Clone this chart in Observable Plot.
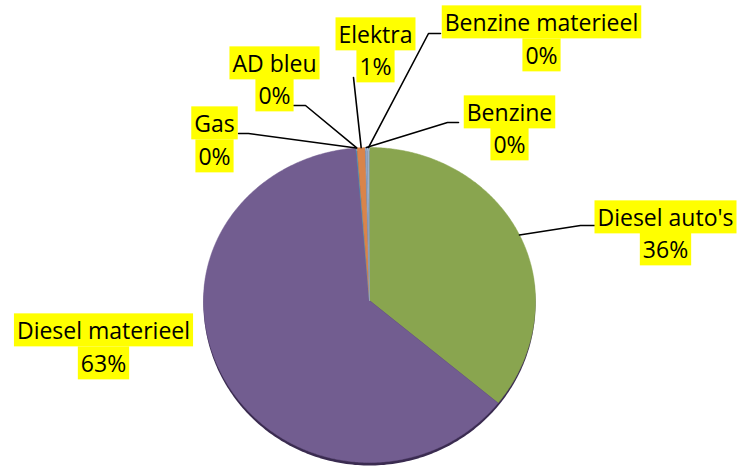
<!DOCTYPE html>
<html><head><meta charset="utf-8">
<script src="https://cdn.jsdelivr.net/npm/d3@7"></script>
<script src="https://cdn.jsdelivr.net/npm/@observablehq/plot@0.6"></script>
<style>body{margin:0;background:#fff}</style>
</head><body><div id="chart"></div>
<script>
// ---- data (clockwise from 12 o'clock) ----
const categories = ["Diesel auto's", "Diesel materieel", "Gas", "AD bleu", "Elektra", "Benzine", "Benzine materieel"];
const values = [35.9, 62.8, 0.05, 0.05, 0.8, 0.2, 0.2];
const percentLabels = ["36%", "63%", "0%", "0%", "1%", "0%", "0%"];

// ---- style / layout ----
const sliceColors = {
  "Benzine materieel": "#9cb1cb",
  "Benzine": "#8ea6c6",
  "Diesel auto's": "#89a54f",
  "Diesel materieel": "#725d90",
  "Gas": "#4f81bd",
  "AD bleu": "#4bacc6",
  "Elektra": "#d9844a"
};
const pie = {cx: 369, cy: 300, rx: 166, ryTop: 153, ryBottom: 162};
const labelLayout = {
  "Benzine materieel": {x: 541, y1: 23, y2: 56, elbow: [[440, 33], [428, 33]]},
  "Benzine": {x: 509, y1: 113, y2: 145, elbow: [[458, 122], [447, 122]]},
  "Diesel auto's": {x: 665, y1: 218, y2: 250, elbow: [[597, 225], [580, 225]]},
  "Diesel materieel": {x: 103, y1: 331, y2: 364, elbow: null},
  "Gas": {x: 214, y1: 124, y2: 157, elbow: [[238, 133], [248, 133]]},
  "AD bleu": {x: 274, y1: 64, y2: 96, elbow: [[293, 105], [305, 105]]},
  "Elektra": {x: 375, y1: 35, y2: 67, elbow: [[353, 77]]}
};
const font = "'Open Sans', Lato, sans-serif";
const fontSize = 23;

// ---- geometry from data ----
function edge(a, grow = 1) {
  const c = Math.cos(a);
  return {
    x: pie.cx + pie.rx * grow * Math.sin(a),
    y: pie.cy - (c > 0 ? pie.ryTop : pie.ryBottom) * grow * c
  };
}
const arcs = d3.pie().sort(null).value(d => d)(values);
const slicePts = arcs.map((a, i) => {
  const n = Math.max(2, Math.ceil((a.endAngle - a.startAngle) / 0.01));
  const pts = [{x: pie.cx, y: pie.cy, name: categories[i]}];
  for (let k = 0; k <= n; k++) {
    const p = edge(a.startAngle + (a.endAngle - a.startAngle) * k / n);
    pts.push({...p, name: categories[i]});
  }
  return pts;
});
const outline = d3.range(0, 361).map(k => edge(k * Math.PI / 180));

const leaders = [];
arcs.forEach((a, i) => {
  const L = labelLayout[categories[i]];
  if (!L.elbow) return;
  const mid = (a.startAngle + a.endAngle) / 2;
  L.elbow.forEach(([x, y]) => leaders.push({x, y, name: categories[i]}));
  leaders.push({...edge(mid), name: categories[i]});
});

const labels = categories.map((c, i) => ({
  name: c, pct: percentLabels[i],
  x: labelLayout[c].x, y1: labelLayout[c].y1, y2: labelLayout[c].y2
}));

const marks = [
  Plot.line(outline, {x: "x", y: "y", fill: "#3a2b50", stroke: "none", dy: 3}),
  ...slicePts.map((pts, i) => Plot.line(pts, {x: "x", y: "y", fill: sliceColors[categories[i]], stroke: sliceColors[categories[i]], strokeWidth: 0.5})),
  Plot.line(leaders, {x: "x", y: "y", z: "name", stroke: "black", strokeWidth: 1.6}),
  Plot.text(labels, {x: "x", y: "y1", text: "name", fontSize, fontFamily: font, fill: "black"}),
  Plot.text(labels, {x: "x", y: "y2", text: "pct", fontSize, fontFamily: font, fill: "black"})
];

const svg = Plot.plot({
  width: 737, height: 470, margin: 0,
  x: {type: "identity", axis: null},
  y: {type: "identity", axis: null},
  style: {background: "white"},
  marks
});
document.getElementById("chart").append(svg);

// yellow highlight boxes behind each label line
const svgRect = svg.getBoundingClientRect();
const textGroups = svg.querySelectorAll('g[aria-label="text"]');
const boxG = document.createElementNS("http://www.w3.org/2000/svg", "g");
textGroups.forEach(g => g.querySelectorAll("text").forEach(t => {
  const r = t.getBoundingClientRect();
  const cy = r.top - svgRect.top + r.height / 2;
  const rect = document.createElementNS("http://www.w3.org/2000/svg", "rect");
  rect.setAttribute("x", r.left - svgRect.left - 3);
  rect.setAttribute("width", r.width + 6);
  rect.setAttribute("y", cy - 16.5);
  rect.setAttribute("height", 33);
  rect.setAttribute("fill", "#ffff00");
  boxG.append(rect);
}));
textGroups[0].parentNode.insertBefore(boxG, textGroups[0]);
</script>
</body></html>
